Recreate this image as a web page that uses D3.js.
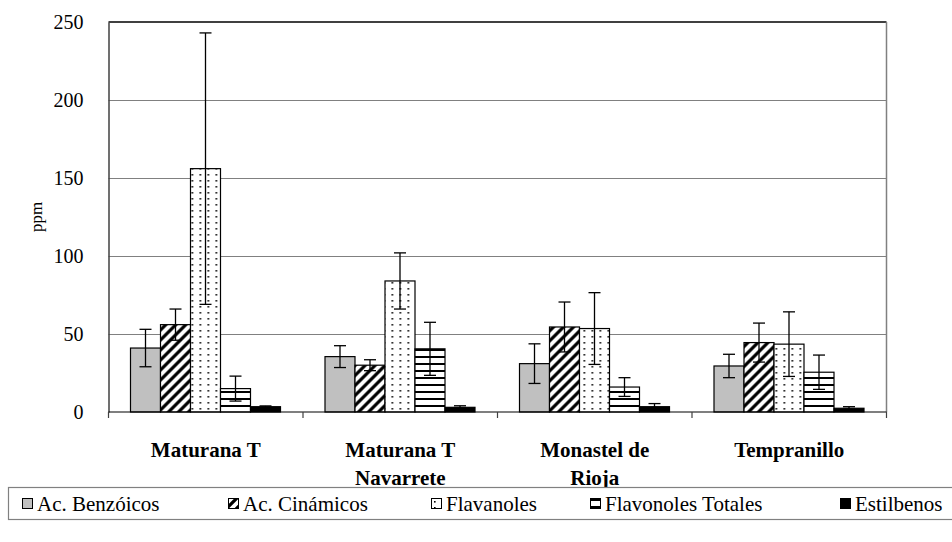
<!DOCTYPE html>
<html>
<head>
<meta charset="utf-8">
<script src="https://cdn.jsdelivr.net/npm/d3@7"></script>
<style>
  body { margin: 0; background: #fff; }
  svg text { font-family: "Liberation Serif", "Times New Roman", Times, "DejaVu Serif", serif; }
</style>
</head>
<body>
<svg id="chart" width="952" height="542"></svg>
<script>
// data
const categories = [["Maturana T"], ["Maturana T", "Navarrete"], ["Monastel de", "Rioja"], ["Tempranillo"]];
const seriesNames = ["Ac. Benzóicos", "Ac. Cinámicos", "Flavanoles", "Flavonoles Totales", "Estilbenos"];
const benzoicos = [41, 35.5, 31, 29.5];
const benzoicosErr = [12, 7, 12.7, 7.5];
const cinamicos = [56, 30, 54.5, 44.5];
const cinamicosErr = [10, 3.5, 16, 12.5];
const flavanoles = [156, 84, 53.5, 43.5];
const flavanolesErr = [87, 18, 23, 20.7];
const flavonolesTot = [15, 40.5, 16, 25.5];
const flavonolesTotErr = [8, 17, 6, 11];
const estilbenos = [3.4, 3, 3.4, 2.4];
const estilbenosErr = [0.5, 1, 2, 1];
const yTicks = [0, 50, 100, 150, 200, 250];

const values = [benzoicos, cinamicos, flavanoles, flavonolesTot, estilbenos];
const errors = [benzoicosErr, cinamicosErr, flavanolesErr, flavonolesTotErr, estilbenosErr];
const fills = ["#c0c0c0", "url(#diag)", "url(#dots)", "url(#hlines)", "#000"];

const margin = {top: 22, right: 65.5, bottom: 130, left: 108.5};
const width = 952 - margin.left - margin.right;
const height = 542 - margin.top - margin.bottom;

const svg = d3.select("#chart");

// patterns
const defs = svg.append("defs");
const diag = defs.append("pattern").attr("id", "diag")
    .attr("patternUnits", "userSpaceOnUse").attr("width", 10).attr("height", 10);
diag.append("rect").attr("width", 10).attr("height", 10).attr("fill", "#fff");
diag.append("path").attr("d", "M-2,12 L12,-2 M-7,7 L7,-7 M3,17 L17,3")
    .attr("stroke", "#000").attr("stroke-width", 3.2);

const dots = defs.append("pattern").attr("id", "dots")
    .attr("patternUnits", "userSpaceOnUse").attr("width", 8).attr("height", 6);
dots.append("rect").attr("width", 8).attr("height", 6).attr("fill", "#fff");
dots.append("rect").attr("x", 3).attr("y", 2).attr("width", 1.6).attr("height", 1.6).attr("fill", "#000");

const hlines = defs.append("pattern").attr("id", "hlines")
    .attr("patternUnits", "userSpaceOnUse").attr("width", 8).attr("height", 7);
hlines.append("rect").attr("width", 8).attr("height", 7).attr("fill", "#fff");
hlines.append("rect").attr("y", 5).attr("width", 8).attr("height", 2).attr("fill", "#000");

const g = svg.append("g").attr("transform", `translate(${margin.left},${margin.top})`);

const x0 = d3.scaleBand().domain(d3.range(categories.length)).range([0, width]);
const x1 = d3.scaleBand().domain(d3.range(seriesNames.length))
    .range([22, x0.bandwidth() - 22.5]);
const y = d3.scaleLinear().domain([0, 250]).range([height, 0]);

// grid lines
g.selectAll(".grid").data(yTicks.slice(1, -1)).join("line")
    .attr("x1", 0).attr("x2", width)
    .attr("y1", d => Math.round(y(d)) + 0.5).attr("y2", d => Math.round(y(d)) + 0.5)
    .attr("stroke", "#808080").attr("stroke-width", 1);

// frame: top and right
g.append("line").attr("x1", 0).attr("x2", width).attr("y1", 0).attr("y2", 0)
    .attr("stroke", "#404040").attr("stroke-width", 2);
g.append("line").attr("x1", width).attr("x2", width).attr("y1", 0).attr("y2", height)
    .attr("stroke", "#808080").attr("stroke-width", 1.5);

// bars
const series = g.selectAll(".series").data(values).join("g");
series.selectAll("rect")
    .data((vals, si) => vals.map((v, ci) => ({v, ci, si})))
    .join("rect")
    .attr("x", d => x0(d.ci) + x1(d.si))
    .attr("y", d => y(d.v))
    .attr("width", x1.bandwidth())
    .attr("height", d => height - y(d.v))
    .attr("fill", d => fills[d.si])
    .attr("stroke", "#000").attr("stroke-width", 1.2);

// error bars
const errData = [];
values.forEach((vals, si) => vals.forEach((v, ci) => errData.push({v, e: errors[si][ci], ci, si})));
const eb = g.selectAll(".err").data(errData).join("g")
    .attr("transform", d => `translate(${x0(d.ci) + x1(d.si) + x1.bandwidth() / 2},0)`);
eb.append("line").attr("y1", d => y(d.v + d.e)).attr("y2", d => y(Math.max(0, d.v - d.e)))
    .attr("stroke", "#000").attr("stroke-width", 1.3);
eb.append("line").attr("x1", -6).attr("x2", 6)
    .attr("y1", d => y(d.v + d.e)).attr("y2", d => y(d.v + d.e))
    .attr("stroke", "#000").attr("stroke-width", 1.3);
eb.append("line").attr("x1", -6).attr("x2", 6)
    .attr("y1", d => y(Math.max(0, d.v - d.e))).attr("y2", d => y(Math.max(0, d.v - d.e)))
    .attr("stroke", "#000").attr("stroke-width", 1.3);

// y axis
const yAxis = g.append("g")
    .call(d3.axisLeft(y).tickValues(yTicks).tickSize(0).tickPadding(25));
yAxis.attr("font-family", null);
yAxis.select(".domain").attr("stroke", "#404040").attr("stroke-width", 1.5);
yAxis.selectAll("text").attr("font-size", 20).attr("fill", "#000");

// x axis: baseline and tick marks between categories
g.append("line").attr("x1", 0).attr("x2", width).attr("y1", height).attr("y2", height)
    .attr("stroke", "#000").attr("stroke-width", 1.2);
g.selectAll(".xtick").data(d3.range(categories.length + 1)).join("line")
    .attr("x1", d => d * x0.step()).attr("x2", d => d * x0.step())
    .attr("y1", height).attr("y2", height + 6)
    .attr("stroke", "#404040").attr("stroke-width", 1.2);

const catLabels = g.selectAll(".cat").data(categories).join("text")
    .attr("text-anchor", "middle")
    .attr("font-weight", "bold").attr("font-size", 21)
    .attr("x", (d, i) => x0(i) + x0.bandwidth() / 2)
    .attr("y", height + 45);
catLabels.selectAll("tspan").data(d => d).join("tspan")
    .attr("x", function () { return d3.select(this.parentNode).attr("x"); })
    .attr("dy", (d, i) => i === 0 ? 0 : 28)
    .text(d => d);

// y label
svg.append("text")
    .attr("transform", "translate(42,217) rotate(-90)")
    .attr("text-anchor", "middle").attr("font-size", 17)
    .text("ppm");

// legend
const legend = svg.append("g").attr("transform", "translate(8,487)");
legend.append("rect").attr("x", 0.5).attr("y", 0.5).attr("width", 960).attr("height", 32)
    .attr("fill", "#fff").attr("stroke", "#808080").attr("stroke-width", 1.2);
const legendX = [14, 220, 423, 582, 832];
const items = legend.selectAll(".item").data(seriesNames).join("g")
    .attr("transform", (d, i) => `translate(${legendX[i]},0)`);
items.append("rect").attr("x", 0.5).attr("y", 11.5).attr("width", 10).attr("height", 10)
    .attr("fill", (d, i) => fills[i]).attr("stroke", "#000").attr("stroke-width", 1);
items.append("text").attr("x", 15).attr("y", 23.5).attr("font-size", 21).text(d => d);
</script>
</body>
</html>
